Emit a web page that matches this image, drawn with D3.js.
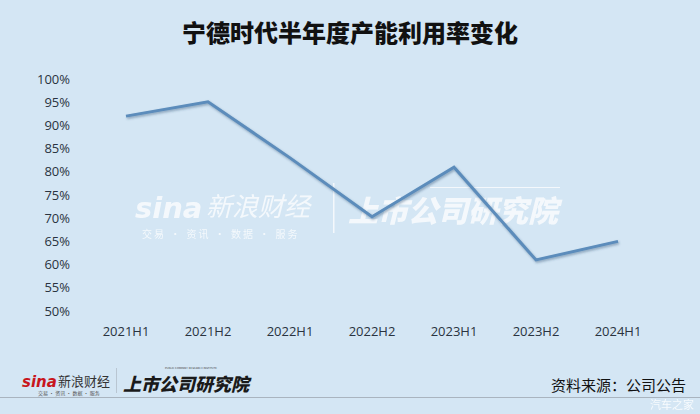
<!DOCTYPE html>
<html>
<head>
<meta charset="utf-8">
<script src="https://cdn.jsdelivr.net/npm/d3@7/dist/d3.min.js"></script>
<style>
  html, body { margin: 0; padding: 0; background: #d4e6f4; }
  svg { display: block; }
</style>
</head>
<body>
<svg id="chart" width="700" height="414"></svg>
<script>
const categories = ["2021H1", "2021H2", "2022H1", "2022H2", "2023H1", "2023H2", "2024H1"];
const utilization = [0.92, 0.951, 0.83, 0.703, 0.81, 0.61, 0.65];
const yTicks = [0.50, 0.55, 0.60, 0.65, 0.70, 0.75, 0.80, 0.85, 0.90, 0.95, 1.00];
const titleText = "宁德时代半年度产能利用率变化";
const sourceText = "资料来源：公司公告";

const svg = d3.select("#chart");
const W = 700, H = 414;

svg.append("rect").attr("width", W).attr("height", H).attr("fill", "#d4e6f4");

const defs = svg.append("defs");
const f = defs.append("filter").attr("id", "shadow").attr("x", "-10%").attr("y", "-10%").attr("width", "120%").attr("height", "130%");
f.append("feDropShadow").attr("dx", 1).attr("dy", 1.5).attr("stdDeviation", 1).attr("flood-color", "#2d4f73").attr("flood-opacity", 0.45);

const x = d3.scaleBand().domain(categories).range([85, 659]).paddingInner(0).paddingOuter(0);
const y = d3.scaleLinear().domain([0.5, 1.0]).range([311, 79]);

// title
svg.append("text")
  .attr("x", 350).attr("y", 35)
  .attr("text-anchor", "middle").attr("dominant-baseline", "middle")
  .attr("font-family", "'Noto Sans CJK SC', sans-serif")
  .attr("font-weight", 900).attr("font-size", 24).attr("fill", "#111")
  .text(titleText);

// watermark in the middle
const wm = svg.append("g").attr("opacity", 0.75).attr("fill", "#ffffff");
wm.append("text").attr("x", 135).attr("y", 218)
  .attr("font-family", "'DejaVu Sans', sans-serif").attr("font-style", "italic").attr("font-weight", "bold")
  .attr("font-size", 29).text("sina");
wm.append("text").attr("x", 206).attr("y", 216)
  .attr("font-family", "'Noto Sans CJK SC', sans-serif").attr("font-size", 26).attr("font-style", "italic")
  .text("新浪财经");
wm.append("text").attr("x", 142).attr("y", 238)
  .attr("font-family", "'Noto Sans CJK SC', sans-serif").attr("font-size", 10)
  .text("交易 · 资讯 · 数据 · 服务").attr("letter-spacing", 2);
wm.append("rect").attr("x", 333).attr("y", 183).attr("width", 1.5).attr("height", 50);
wm.append("text").attr("x", 348).attr("y", 222)
  .attr("font-family", "'Noto Sans CJK SC', sans-serif").attr("font-weight", 900).attr("font-style", "italic")
  .attr("font-size", 30).text("上市公司研究院");
wm.append("rect").attr("x", 430).attr("y", 187).attr("width", 130).attr("height", 1);

// y axis labels
const yAxis = d3.axisLeft(y).tickValues(yTicks).tickFormat(d3.format(".0%")).tickSize(0).tickPadding(0);
const yg = svg.append("g").attr("transform", "translate(70,0)").call(yAxis);
yg.select(".domain").remove();
yg.selectAll("text")
  .attr("font-family", "'Open Sans', sans-serif").attr("font-size", 13).attr("fill", "#2a3340");

// x axis labels
const xAxis = d3.axisBottom(x).tickSize(0).tickPadding(0);
const xg = svg.append("g").attr("transform", "translate(0,327)").call(xAxis);
xg.select(".domain").remove();
xg.selectAll("text")
  .attr("font-family", "'Open Sans', sans-serif").attr("font-size", 13).attr("fill", "#2a3340");

// line
const line = d3.line()
  .x((d, i) => x(categories[i]) + x.bandwidth() / 2)
  .y(d => y(d));
svg.append("path")
  .datum(utilization)
  .attr("d", line)
  .attr("fill", "none")
  .attr("stroke", "#5b8cbb")
  .attr("stroke-width", 3)
  .attr("stroke-linejoin", "miter")
  .attr("filter", "url(#shadow)");

// footer
const ft = svg.append("g");
ft.append("text").attr("x", 22).attr("y", 387)
  .attr("font-family", "'DejaVu Sans', sans-serif").attr("font-style", "italic").attr("font-weight", "bold")
  .attr("font-size", 15).attr("fill", "#c8161d").text("sina");
ft.append("text").attr("x", 58).attr("y", 386)
  .attr("font-family", "'Noto Sans CJK SC', sans-serif").attr("font-size", 13).attr("fill", "#333")
  .text("新浪财经");
ft.append("text").attr("x", 38).attr("y", 395)
  .attr("font-family", "'Noto Sans CJK SC', sans-serif").attr("font-size", 5).attr("fill", "#555")
  .text("交易 · 资讯 · 数据 · 服务");
ft.append("rect").attr("x", 116).attr("y", 368).attr("width", 1).attr("height", 25).attr("fill", "#b9c6d2");
ft.append("text").attr("x", 123).attr("y", 391)
  .attr("font-family", "'Noto Sans CJK SC', sans-serif").attr("font-weight", 900).attr("font-style", "italic")
  .attr("font-size", 18).attr("fill", "#1a1a1a").text("上市公司研究院");
ft.append("text").attr("x", 165).attr("y", 369)
  .attr("font-family", "'DejaVu Sans', sans-serif").attr("font-size", 2.6).attr("fill", "#444")
  .text("PUBLIC COMPANY RESEARCH INSTITUTE");

svg.append("text").attr("x", 686).attr("y", 387)
  .attr("text-anchor", "end").attr("dominant-baseline", "middle")
  .attr("font-family", "'Noto Sans CJK SC', sans-serif").attr("font-size", 15).attr("fill", "#111")
  .text(sourceText);

svg.append("line").attr("x1", 0).attr("x2", W).attr("y1", 397.5).attr("y2", 397.5)
  .attr("stroke", "#a9b4bf").attr("stroke-width", 1);

svg.append("text").attr("x", 694).attr("y", 409)
  .attr("text-anchor", "end")
  .attr("font-family", "'Noto Sans CJK SC', sans-serif").attr("font-size", 11).attr("fill", "#ffffff").attr("opacity", 0.8)
  .text("汽车之家");
</script>
</body>
</html>
